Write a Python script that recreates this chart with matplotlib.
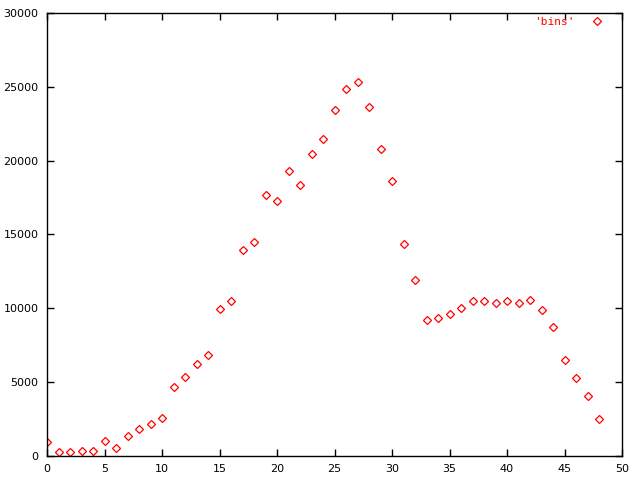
import matplotlib
matplotlib.use("Agg")
import matplotlib.pyplot as plt

# Bin index and counts.
bins = list(range(49))
counts = [950, 270, 270, 340, 340, 1000, 540, 1350, 1830, 2170,
          2570, 4670, 5350, 6230, 6840, 9950, 10500, 13950, 14500, 17680,
          17270, 19300, 18350, 20450, 21470, 23430, 24850, 25330, 23630, 20790,
          18620, 14360, 11920, 9210, 9350, 9620, 10020, 10500, 10500, 10360,
          10500, 10360, 10560, 9890, 8740, 6500, 5280, 4060, 2510]

fig = plt.figure(figsize=(6.4, 4.8), dpi=100)
ax = fig.add_axes([47 / 640, 24 / 480, 575 / 640, 443 / 480])

ax.plot(bins, counts, linestyle="none", marker="D", markersize=4,
        markerfacecolor="none", markeredgecolor="red", markeredgewidth=0.9,
        label="'bins'")

ax.set_xlim(0, 50)
ax.set_ylim(0, 30000)
ax.set_xticks(range(0, 51, 5))
ax.set_yticks(range(0, 30001, 5000))
ax.tick_params(direction="in", top=True, right=True, length=5, width=1,
               labelsize=8, pad=6)
for s in ax.spines.values():
    s.set_linewidth(1)

ax.legend(loc="upper right", bbox_to_anchor=(1.0, 1.022), frameon=False,
          markerfirst=False, labelcolor="red",
          prop={"family": "DejaVu Sans Mono", "size": 8},
          handlelength=2, handletextpad=1.0, borderaxespad=0.85)

plt.savefig("out.png", dpi=100)
